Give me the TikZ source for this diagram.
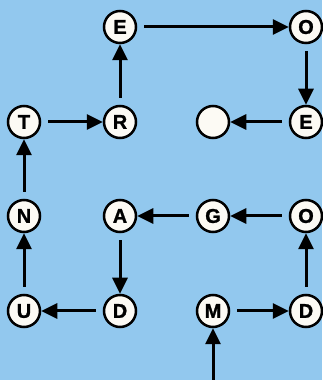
\documentclass[tikz,border=0pt]{standalone}
\usepackage{fontspec}
\setmainfont{Liberation Sans}
\newfontfamily\heavyfont{Liberation Sans}[BoldFeatures={FakeBold=1.2}]
\usetikzlibrary{arrows.meta}
\definecolor{bgblue}{RGB}{146,200,238}
\definecolor{discfill}{RGB}{252,250,244}
\begin{document}
\begin{tikzpicture}[x=1pt,y=1pt,
  letter/.style={circle,draw=black,line width=2.5pt,fill=discfill,minimum size=32pt,inner sep=0pt,font=\heavyfont\fontsize{20}{20}\selectfont\bfseries},
  link/.style={line width=3pt,-{Triangle[length=16pt,width=15pt]},shorten <=7pt}]
\fill[bgblue] (0,0) rectangle (322,380);
\useasboundingbox (0,0) rectangle (322,380);
% rows: py 27,122,216,311 -> y = 380-py
\node[letter] (e1) at (120,353) {E};
\node[letter] (o1) at (306,353) {O};
\node[letter] (t)  at (24,258) {T};
\node[letter] (r)  at (120,258) {R};
\node[letter] (blank) at (213,258) {};
\node[letter] (e2) at (306,258) {E};
\node[letter] (n)  at (24,164) {N};
\node[letter] (a)  at (120,164) {A};
\node[letter] (g)  at (213,164) {G};
\node[letter] (o2) at (306,164) {O};
\node[letter] (u)  at (24,69) {U};
\node[letter] (d1) at (120,69) {D};
\node[letter] (m)  at (213,69) {M};
\node[letter] (d2) at (306,69) {D};
\coordinate (start) at (213,0);
\draw[link] (e1) -- (o1);
\draw[link] (o1) -- (e2);
\draw[link] (e2) -- (blank);
\draw[link] (r) -- (e1);
\draw[link] (t) -- (r);
\draw[link] (n) -- (t);
\draw[link] (u) -- (n);
\draw[link] (d1) -- (u);
\draw[link] (a) -- (d1);
\draw[link] (g) -- (a);
\draw[link] (o2) -- (g);
\draw[link] (d2) -- (o2);
\draw[link] (m) -- (d2);
\draw[link,shorten <=0pt] (start) -- (m);
\end{tikzpicture}
\end{document}
